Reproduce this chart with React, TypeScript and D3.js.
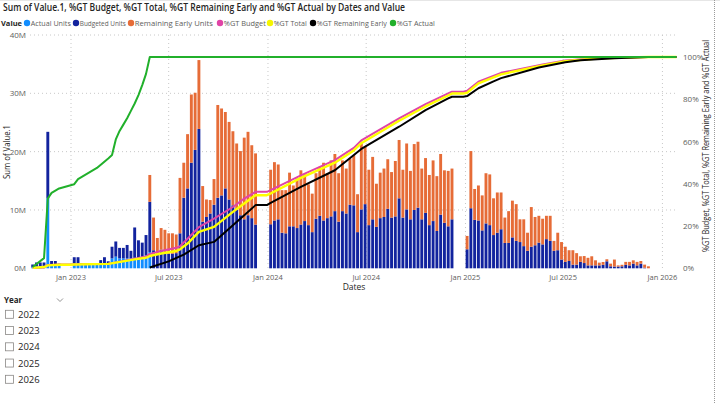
import React from 'react';
import * as d3 from 'd3';

// ---------- DATA ----------
// weekly categories (Saturdays); each block starts at the given date
const blockStarts = ['2022-10-22', '2023-01-07', '2024-01-06', '2025-01-04'];

const actual2022 = [0.2, 0.3, 0.3, 0.3, 12.0, 0.7, 0.7, 0.5];
const budget2022 = [0.45, 0.7, 0.7, 0.7, 11.4, 0.55, 0.55, 0.3];
const remaining2022 = [0, 0, 0, 0, 0, 0, 0, 0];

const actual2023 = [0.9, 0.9, 0.7, 0.7, 0.7, 0.7, 0.7, 0.9, 0.9, 0.9, 1.7, 2.0, 1.7, 1.7, 1.7, 1.7, 1.8, 1.8, 2.0, 2.2, 2.8,
  0, 0, 0, 0, 0, 0, 0, 0, 0, 0, 0, 0, 0, 0, 0, 0, 0, 0, 0, 0, 0, 0, 0, 0, 0, 0, 0, 0];
const budget2023 = [1.0, 1.0, 0.2, 0.2, 0.2, 0.2, 0.2, 0.5, 1.0, 0.3, 2.0, 2.6, 1.8, 1.8, 2.3, 1.3, 5.2, 3.0, 2.4, 3.5,
  8.6, 3.1, 2.35, 3.2, 2.5, 2.5, 2.5, 2.6, 6.0, 12.1, 13.7, 18.1, 20.3, 23.9, 8.0, 8.8, 9.4, 10.9, 12.1, 12.5,
  13.7, 11.8, 10.8, 10.0, 9.1, 8.4, 9.1, 8.6, 7.5];
const remaining2023 = [0, 0, 0, 0, 0, 0, 0, 0, 0, 0, 0, 0, 0, 0, 0, 0, 0, 0, 0, 0,
  4.6, 5.6, 2.85, 3.7, 4.1, 3.5, 3.5, 3.2, 9.5, 6.0, 9.3, 11.7, 9.8, 11.8, 6.1, 3.0, 2.3, 4.4, 15.9, 14.9,
  13.1, 13.3, 12.7, 11.4, 11.0, 14.0, 14.3, 12.5, 12.2];

const budget2024 = [7.55, 8.2, 8.4, 6.1, 6.0, 7.2, 7.2, 6.9, 7.5, 8.1, 7.4, 6.2, 8.5, 9.0, 8.2, 8.6, 8.9, 9.8, 8.0, 9.8,
  9.4, 10.9, 10.8, 6.2, 10.1, 11.0, 7.4, 8.4, 7.1, 8.6, 8.8, 10.2, 8.7, 8.9, 12.0, 8.7, 10.1, 8.4, 10.0, 10.4,
  8.4, 9.5, 7.4, 8.1, 6.4, 9.2, 7.8, 7.2, 8.4];
const remaining2024 = [9.35, 10.0, 9.4, 7.3, 7.4, 9.2, 7.0, 8.5, 9.3, 8.0, 7.0, 6.6, 7.8, 8.4, 9.9, 7.7, 9.6, 9.8, 8.3, 8.7,
  7.7, 7.9, 8.6, 6.5, 11.3, 9.8, 9.5, 10.7, 7.4, 7.8, 8.3, 8.5, 7.8, 9.5, 10.0, 8.2, 11.3, 8.3, 11.3, 11.3,
  8.7, 9.4, 8.6, 10.4, 9.4, 10.4, 9.0, 9.5, 8.7];

const budget2025 = [3.26, 10.3, 8.3, 8.2, 6.5, 7.7, 7.4, 5.7, 6.1, 6.7, 4.35, 4.35, 5.3, 4.7, 4.5, 3.8, 3.0, 3.7, 3.95, 4.4,
  4.1, 5.0, 4.7, 3.0, 3.1, 1.5, 1.1, 1.25, 0.63, 0.63, 1.1, 0.9, 0.5, 0.5, 0.5, 0.5, 0.6, 1.2, 0.34, 0.3,
  0.3, 0.34, 0.6, 0.5, 0.8, 0.5, 0.8, 0.1, 0];
const remaining2025 = [2.29, 9.8, 5.3, 6.0, 6.0, 8.6, 8.7, 6.3, 6.9, 6.3, 4.35, 5.45, 6.3, 6.3, 3.9, 4.6, 3.1, 6.8, 4.85, 4.6,
  4.4, 4.0, 4.3, 1.7, 3.0, 3.0, 2.6, 1.85, 2.47, 1.97, 0.96, 1.2, 1.3, 1.56, 0.87, 0.47, 0.48, 0.35, 0.46, 1.2,
  0.2, 0.26, 0.5, 0.6, 0.57, 0.6, 0.45, 0.53, 0.34];

// running % of grand total lines (date, share)
const pctBudget: [string, number][] = [
  ['2022-10-22', 0.001], ['2022-11-12', 0.004], ['2022-11-19', 0.016], ['2022-12-10', 0.018], ['2022-12-31', 0.018],
  ['2023-01-07', 0.019], ['2023-03-11', 0.022], ['2023-03-25', 0.028], ['2023-04-29', 0.045], ['2023-05-20', 0.056],
  ['2023-05-27', 0.068], ['2023-06-17', 0.082], ['2023-07-15', 0.097], ['2023-07-22', 0.104], ['2023-08-05', 0.14],
  ['2023-08-26', 0.195], ['2023-09-23', 0.235], ['2023-10-28', 0.29], ['2023-11-18', 0.33], ['2023-12-09', 0.362],
  ['2023-12-30', 0.362], ['2024-01-06', 0.37], ['2024-03-02', 0.44], ['2024-05-04', 0.512], ['2024-06-08', 0.57],
  ['2024-06-22', 0.605], ['2024-08-31', 0.71], ['2024-10-19', 0.777], ['2024-11-30', 0.828], ['2024-12-07', 0.836],
  ['2024-12-28', 0.836], ['2025-01-04', 0.84], ['2025-01-25', 0.883], ['2025-03-08', 0.925], ['2025-05-24', 0.965],
  ['2025-07-05', 0.983], ['2025-09-06', 0.995], ['2025-12-06', 1.0], ['2026-01-27', 1.0],
];
const pctTotal: [string, number][] = [
  ['2022-10-22', 0.002], ['2022-11-12', 0.006], ['2022-11-19', 0.014], ['2022-12-10', 0.017], ['2022-12-31', 0.017],
  ['2023-01-07', 0.018], ['2023-03-11', 0.021], ['2023-03-25', 0.027], ['2023-04-29', 0.042], ['2023-05-20', 0.05],
  ['2023-05-27', 0.058], ['2023-06-17', 0.07], ['2023-07-15', 0.082], ['2023-07-22', 0.09], ['2023-08-05', 0.117],
  ['2023-08-26', 0.172], ['2023-09-23', 0.196], ['2023-10-28', 0.267], ['2023-11-18', 0.307], ['2023-12-09', 0.346],
  ['2023-12-30', 0.346], ['2024-01-06', 0.354], ['2024-03-02', 0.428], ['2024-05-04', 0.5], ['2024-06-08', 0.558],
  ['2024-06-22', 0.592], ['2024-08-31', 0.698], ['2024-10-19', 0.766], ['2024-11-30', 0.818], ['2024-12-07', 0.827],
  ['2024-12-28', 0.827], ['2025-01-04', 0.831], ['2025-01-25', 0.875], ['2025-03-08', 0.918], ['2025-05-24', 0.96],
  ['2025-07-05', 0.98], ['2025-09-06', 0.994], ['2025-12-06', 1.0], ['2026-01-27', 1.0],
];
const pctRemainingEarly: [string, number][] = [
  ['2023-05-27', 0.004], ['2023-07-01', 0.033], ['2023-07-29', 0.065], ['2023-08-26', 0.109], ['2023-09-23', 0.125],
  ['2023-10-28', 0.204], ['2023-11-18', 0.251], ['2023-12-09', 0.299], ['2023-12-30', 0.299], ['2024-01-06', 0.31],
  ['2024-03-02', 0.385], ['2024-05-04', 0.464], ['2024-06-22', 0.565], ['2024-08-31', 0.67], ['2024-10-19', 0.749],
  ['2024-11-30', 0.804], ['2024-12-07', 0.812], ['2024-12-28', 0.812], ['2025-01-04', 0.815], ['2025-01-25', 0.852],
  ['2025-02-22', 0.885], ['2025-03-08', 0.9], ['2025-05-17', 0.95], ['2025-07-05', 0.975], ['2025-08-02', 0.985],
  ['2025-10-04', 0.994], ['2025-12-06', 1.0], ['2026-01-27', 1.0],
];
const pctActual: [string, number][] = [
  ['2022-10-22', 0.006], ['2022-11-12', 0.048], ['2022-11-19', 0.33], ['2022-11-26', 0.357], ['2022-12-03', 0.368],
  ['2022-12-10', 0.378], ['2023-01-07', 0.398], ['2023-01-14', 0.422], ['2023-02-18', 0.475], ['2023-03-11', 0.52],
  ['2023-03-18', 0.536], ['2023-03-25', 0.61], ['2023-04-01', 0.65], ['2023-04-08', 0.68], ['2023-04-15', 0.71],
  ['2023-04-22', 0.745], ['2023-04-29', 0.78], ['2023-05-06', 0.82], ['2023-05-13', 0.867], ['2023-05-20', 0.92],
  ['2023-05-27', 1.0], ['2026-01-27', 1.0],
];

const leftTicks = [0, 10, 20, 30, 40];
const rightTicks = [0, 0.2, 0.4, 0.6, 0.8, 1.0];
const xTickDates = ['2023-01-01', '2023-07-01', '2024-01-01', '2024-07-01', '2025-01-01', '2025-07-01', '2026-01-01'];
const years = ['2022', '2023', '2024', '2025', '2026'];

const legendLabels = ['Actual Units', 'Budgeted Units', 'Remaining Early Units', '%GT Budget', '%GT Total', '%GT Remaining Early', '%GT Actual'];
const legendColors = ['#118DFF', '#12239E', '#E66C37', '#E044A7', '#F5F500', '#000000', '#21B02B'];

// ---------- CHART ----------
const FONT = "'Open Sans', sans-serif";
const parse = d3.timeParse('%Y-%m-%d') as (s: string) => Date;
// legend layout: dot centre and text width for each item
const LEG_X = [27, 76, 131, 220, 270, 313, 393];
const LEG_W = [40, 46, 78, 42, 33, 70, 38];

type Week = { date: Date; actual: number; budget: number; remaining: number };

function buildWeeks(): Week[] {
  const blocks: number[][][] = [
    [actual2022, budget2022, remaining2022],
    [actual2023, budget2023, remaining2023],
    [[], budget2024, remaining2024],
    [[], budget2025, remaining2025],
  ];
  const out: Week[] = [];
  blocks.forEach((b, bi) => {
    const start = parse(blockStarts[bi]);
    b[1].forEach((v, i) => {
      out.push({
        date: d3.timeDay.offset(start, 7 * i),
        actual: b[0][i] ?? 0,
        budget: v,
        remaining: b[2][i] ?? 0,
      });
    });
  });
  return out;
}

export default function App() {
  const weeks = buildWeeks();
  const x = d3.scaleTime().domain([parse('2022-10-17'), parse('2026-01-28')]).range([30, 677]);
  const yL = d3.scaleLinear().domain([0, 40]).range([268.3, 35]);
  const yR = d3.scaleLinear().domain([0, 1]).range([268.3, 57]);
  const bw = 2.9;
  const fmtX = d3.timeFormat('%b %Y');

  const lineGen = d3.line<[string, number]>().x(d => x(parse(d[0]))).y(d => yR(d[1]));
  const lines = [
    { data: pctBudget, color: '#E044A7', w: 2 },
    { data: pctTotal, color: '#FFFF00', w: 2.4 },
    { data: pctRemainingEarly, color: '#000000', w: 2 },
    { data: pctActual, color: '#21B02B', w: 2 },
  ];

  return (
    <svg width={720} height={404} style={{ position: 'absolute', left: 0, top: 0, background: '#fff' }} fontFamily={FONT}>
      <rect x={0} y={0} width={720} height={404} fill="#fff" />
      <line x1={0} x2={720} y1={0.5} y2={0.5} stroke="#e6e6e6" />
      <line x1={714.5} x2={714.5} y1={0} y2={404} stroke="#9a9a9a" strokeDasharray="1 1" />

      <text x={3} y={10.5} fontSize={10} fontWeight={600} fill="#252423" textLength={402} lengthAdjust="spacingAndGlyphs">
        Sum of Value.1, %GT Budget, %GT Total, %GT Remaining Early and %GT Actual by Dates and Value
      </text>

      {/* legend */}
      <text x={1} y={25.8} fontSize={7.8} fontWeight={700} fill="#252423" textLength={21} lengthAdjust="spacingAndGlyphs">Value</text>
      {legendLabels.map((lab, i) => (
        <g key={lab}>
          <circle cx={LEG_X[i]} cy={23} r={3.2} fill={legendColors[i]} />
          <text x={LEG_X[i] + 3.8} y={25.8} fontSize={7.8} fill="#605E5C" textLength={LEG_W[i]} lengthAdjust="spacingAndGlyphs">{lab}</text>
        </g>
      ))}

      {/* gridlines */}
      {leftTicks.filter(t => t > 0).map(t => (
        <line key={'h' + t} x1={30} x2={677} y1={yL(t)} y2={yL(t)} stroke="#c8c8c8" strokeDasharray="1 3" />
      ))}
      {xTickDates.map(d => (
        <line key={'v' + d} x1={x(parse(d))} x2={x(parse(d))} y1={35} y2={268.3} stroke="#c8c8c8" strokeDasharray="1 3" />
      ))}

      {/* bars */}
      {weeks.map((w, i) => {
        const cx = x(w.date);
        const a0 = 0, a1 = w.actual, b1 = a1 + w.budget, r1 = b1 + w.remaining;
        return (
          <g key={i}>
            {w.actual > 0 && <rect x={cx - bw / 2} width={bw} y={yL(a1)} height={yL(a0) - yL(a1)} fill="#118DFF" />}
            {w.budget > 0 && <rect x={cx - bw / 2} width={bw} y={yL(b1)} height={yL(a1) - yL(b1)} fill="#12239E" />}
            {w.remaining > 0 && <rect x={cx - bw / 2} width={bw} y={yL(r1)} height={yL(b1) - yL(r1)} fill="#E66C37" />}
          </g>
        );
      })}

      {/* lines */}
      {lines.map((l, i) => (
        <path key={i} d={lineGen(l.data) || ''} fill="none" stroke={l.color} strokeWidth={l.w} strokeLinejoin="round" />
      ))}

      {/* left axis */}
      {leftTicks.map(t => (
        <text key={'l' + t} x={26} y={yL(t) + 3} fontSize={8} textAnchor="end" fill="#605E5C">{t}M</text>
      ))}
      <text transform={`translate(10,${152}) rotate(-90)`} fontSize={8.5} textAnchor="middle" fill="#252423"
        textLength={54} lengthAdjust="spacingAndGlyphs">Sum of Value.1</text>

      {/* right axis */}
      {rightTicks.map(t => (
        <text key={'r' + t} x={683} y={yR(t) + 3} fontSize={8} fill="#605E5C">{Math.round(t * 100)}%</text>
      ))}
      <text transform={`translate(709,${146}) rotate(-90)`} fontSize={8.5} textAnchor="middle" fill="#252423"
        textLength={212} lengthAdjust="spacingAndGlyphs">
        %GT Budget, %GT Total, %GT Remaining Early and %GT Actual
      </text>

      {/* x axis */}
      {xTickDates.map(d => (
        <text key={'x' + d} x={x(parse(d))} y={280} fontSize={7.5} textAnchor="middle" fill="#605E5C">{fmtX(parse(d))}</text>
      ))}
      <text x={354} y={290} fontSize={8.5} textAnchor="middle" fill="#252423">Dates</text>

      {/* slicer */}
      <text x={4} y={303} fontSize={8} fontWeight={700} fill="#252423">Year</text>
      <polyline points="57,298.5 60,301.5 63,298.5" fill="none" stroke="#777" strokeWidth={0.8} />
      {years.map((yv, i) => {
        const cy = 314.3 + i * 16.25;
        return (
          <g key={yv}>
            <rect x={5.5} y={cy - 4} width={8} height={8} fill="#fff" stroke="#8a8886" strokeWidth={0.8} />
            <text x={18} y={cy + 3.5} fontSize={9.5} fill="#252423">{yv}</text>
          </g>
        );
      })}
    </svg>
  );
}
